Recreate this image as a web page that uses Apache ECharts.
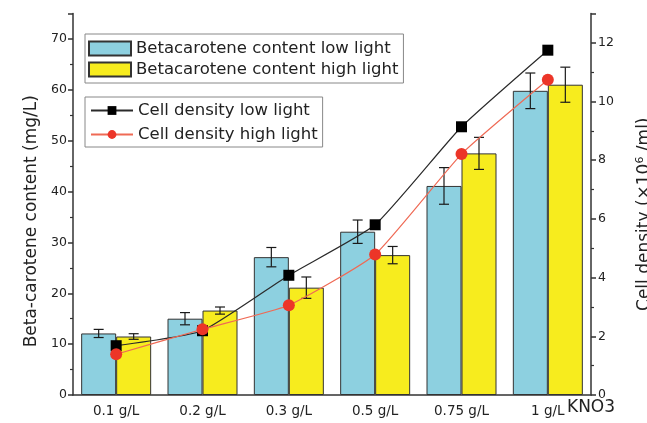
<!DOCTYPE html>
<html><head><meta charset="utf-8">
<script src="https://cdn.jsdelivr.net/npm/echarts@6/dist/echarts.min.js"></script>
<style>html,body{margin:0;padding:0;background:#fff}#c{width:647px;height:423px}</style>
</head><body><div id="c"></div>
<script>
const categories = ['0.1 g/L', '0.2 g/L', '0.3 g/L', '0.5 g/L', '0.75 g/L', '1 g/L'];
const xAxisName = 'KNO3';
const caroteneLow = [12.1, 15.0, 27.1, 32.1, 41.1, 59.8];
const caroteneLowErr = [0.8, 1.2, 1.9, 2.3, 3.6, 3.5];
const caroteneHigh = [11.5, 16.6, 21.1, 27.5, 47.5, 61.0];
const caroteneHighErr = [0.55, 0.7, 2.1, 1.7, 3.15, 3.45];
const densityLow = [1.68, 2.19, 4.08, 5.80, 9.14, 11.75];
const densityHigh = [1.39, 2.24, 3.06, 4.79, 8.21, 10.74];

const FONT = 'DejaVu Sans';
const BAR_W = 35;
const AXIS_COLOR = '#333';

function errorSeries(name, values, errs, side) {
  return {
    type: 'custom', name: name, yAxisIndex: 0, xAxisIndex: 0, z: 4, silent: true,
    encode: { x: 0, y: 1 },
    renderItem: function (params, api) {
      const i = api.value(0), v = api.value(1), e = api.value(2);
      const top = api.coord([i, v + e]);
      const bot = api.coord([i, v - e]);
      const x = top[0] + side * BAR_W / 2;
      const cap = 5;
      const st = { stroke: '#1a1a1a', lineWidth: 1.2 };
      return { type: 'group', children: [
        { type: 'line', shape: { x1: x, y1: top[1], x2: x, y2: bot[1] }, style: st },
        { type: 'line', shape: { x1: x - cap, y1: top[1], x2: x + cap, y2: top[1] }, style: st },
        { type: 'line', shape: { x1: x - cap, y1: bot[1], x2: x + cap, y2: bot[1] }, style: st }
      ]};
    },
    data: values.map(function (v, i) { return [i, v, errs[i]]; })
  };
}

const chart = echarts.init(document.getElementById('c'), null, { renderer: 'canvas' });
const option = {
  backgroundColor: '#fff',
  animation: false,
  textStyle: { fontFamily: FONT },
  grid: { left: 73, right: 56, top: 13.5, bottom: 28, containLabel: false, outerBoundsMode: 'none' },
  graphic: [
    { type: 'text', left: 567, top: 399, silent: true,
      style: { text: xAxisName, fontFamily: FONT, fontSize: 17, fill: '#222' } }
  ],
  legend: [
    {
      data: ['Betacarotene content low light', 'Betacarotene content high light'],
      orient: 'vertical', left: 85, top: 34,
      borderColor: '#888', borderWidth: 1, padding: [6, 5, 5, 3],
      itemWidth: 42, itemHeight: 14, itemGap: 4, icon: 'rect',
      textStyle: { fontFamily: FONT, fontSize: 16.5, color: '#222' }
    },
    {
      data: ['Cell density low light', 'Cell density high light'],
      orient: 'vertical', left: 85, top: 97,
      borderColor: '#888', borderWidth: 1, padding: [5, 5, 4, 5],
      itemWidth: 42, itemHeight: 11, itemGap: 7,
      textStyle: { fontFamily: FONT, fontSize: 16.5, color: '#222' }
    }
  ],
  xAxis: {
    type: 'category', data: categories, boundaryGap: true,
    axisLine: { lineStyle: { color: AXIS_COLOR, width: 1.5 } },
    axisTick: { alignWithLabel: true, length: 5, lineStyle: { color: AXIS_COLOR, width: 1.5 } },
    axisLabel: { fontFamily: FONT, fontSize: 13.5, color: '#222', margin: 9 },
    splitLine: { show: false }
  },
  yAxis: [
    {
      type: 'value', min: 0, max: 75, interval: 10, position: 'left',
      axisLine: { show: true, lineStyle: { color: AXIS_COLOR, width: 1.5 } },
      axisTick: { show: true, length: 5, lineStyle: { color: AXIS_COLOR, width: 1.5 } },
      minorTick: { show: true, splitNumber: 2, length: 3, lineStyle: { color: AXIS_COLOR, width: 1.2 } },
      splitLine: { show: false },
      axisLabel: { fontFamily: FONT, fontSize: 12.5, color: '#222', margin: 6, showMaxLabel: false },
      name: 'Beta-carotene content (mg/L)', nameLocation: 'middle', nameRotate: 90, nameGap: 27,
      nameTextStyle: { fontFamily: FONT, fontSize: 17, color: '#222', padding: [0, 34, 0, 0] }
    },
    {
      type: 'value', min: 0, max: 13, interval: 2, position: 'right',
      axisLine: { show: true, lineStyle: { color: AXIS_COLOR, width: 1.5 } },
      axisTick: { show: true, length: 5, lineStyle: { color: AXIS_COLOR, width: 1.5 } },
      minorTick: { show: true, splitNumber: 2, length: 3, lineStyle: { color: AXIS_COLOR, width: 1.2 } },
      splitLine: { show: false },
      axisLabel: { fontFamily: FONT, fontSize: 12.5, color: '#222', margin: 7, showMaxLabel: false },
      name: '{n|Cell density (×10}{s|6}{n| /ml)}', nameLocation: 'middle', nameRotate: 90, nameGap: 44,
      nameTextStyle: {
        fontFamily: FONT, fontSize: 17, color: '#222', padding: [0, 20, 0, 0],
        rich: {
          n: { fontFamily: FONT, fontSize: 17, color: '#222' },
          s: { fontFamily: FONT, fontSize: 11, color: '#222', verticalAlign: 'top', padding: [0, 0, 8, 0] }
        }
      }
    }
  ],
  series: [
    {
      name: 'Betacarotene content low light', type: 'bar', yAxisIndex: 0, data: caroteneLow,
      barWidth: BAR_W, barGap: '0%', z: 2,
      itemStyle: { color: '#8dd0e0', borderColor: '#333', borderWidth: 1 }
    },
    {
      name: 'Betacarotene content high light', type: 'bar', yAxisIndex: 0, data: caroteneHigh,
      barWidth: BAR_W, barGap: '0%', z: 2,
      itemStyle: { color: '#f7ec1e', borderColor: '#333', borderWidth: 1 }
    },
    errorSeries('errLow', caroteneLow, caroteneLowErr, -1),
    errorSeries('errHigh', caroteneHigh, caroteneHighErr, 1),
    {
      name: 'Cell density low light', type: 'line', yAxisIndex: 1, data: densityLow, z: 6,
      symbol: 'rect', symbolSize: 11, smooth: 0.15,
      lineStyle: { color: '#2a2a2a', width: 1.2 },
      itemStyle: { color: '#000' }
    },
    {
      name: 'Cell density high light', type: 'line', yAxisIndex: 1, data: densityHigh, z: 6,
      symbol: 'circle', symbolSize: 12, smooth: 0.15,
      lineStyle: { color: '#ef6a55', width: 1.2 },
      itemStyle: { color: '#ec3528' }
    }
  ]
};
chart.setOption(option);
</script>
</body></html>
